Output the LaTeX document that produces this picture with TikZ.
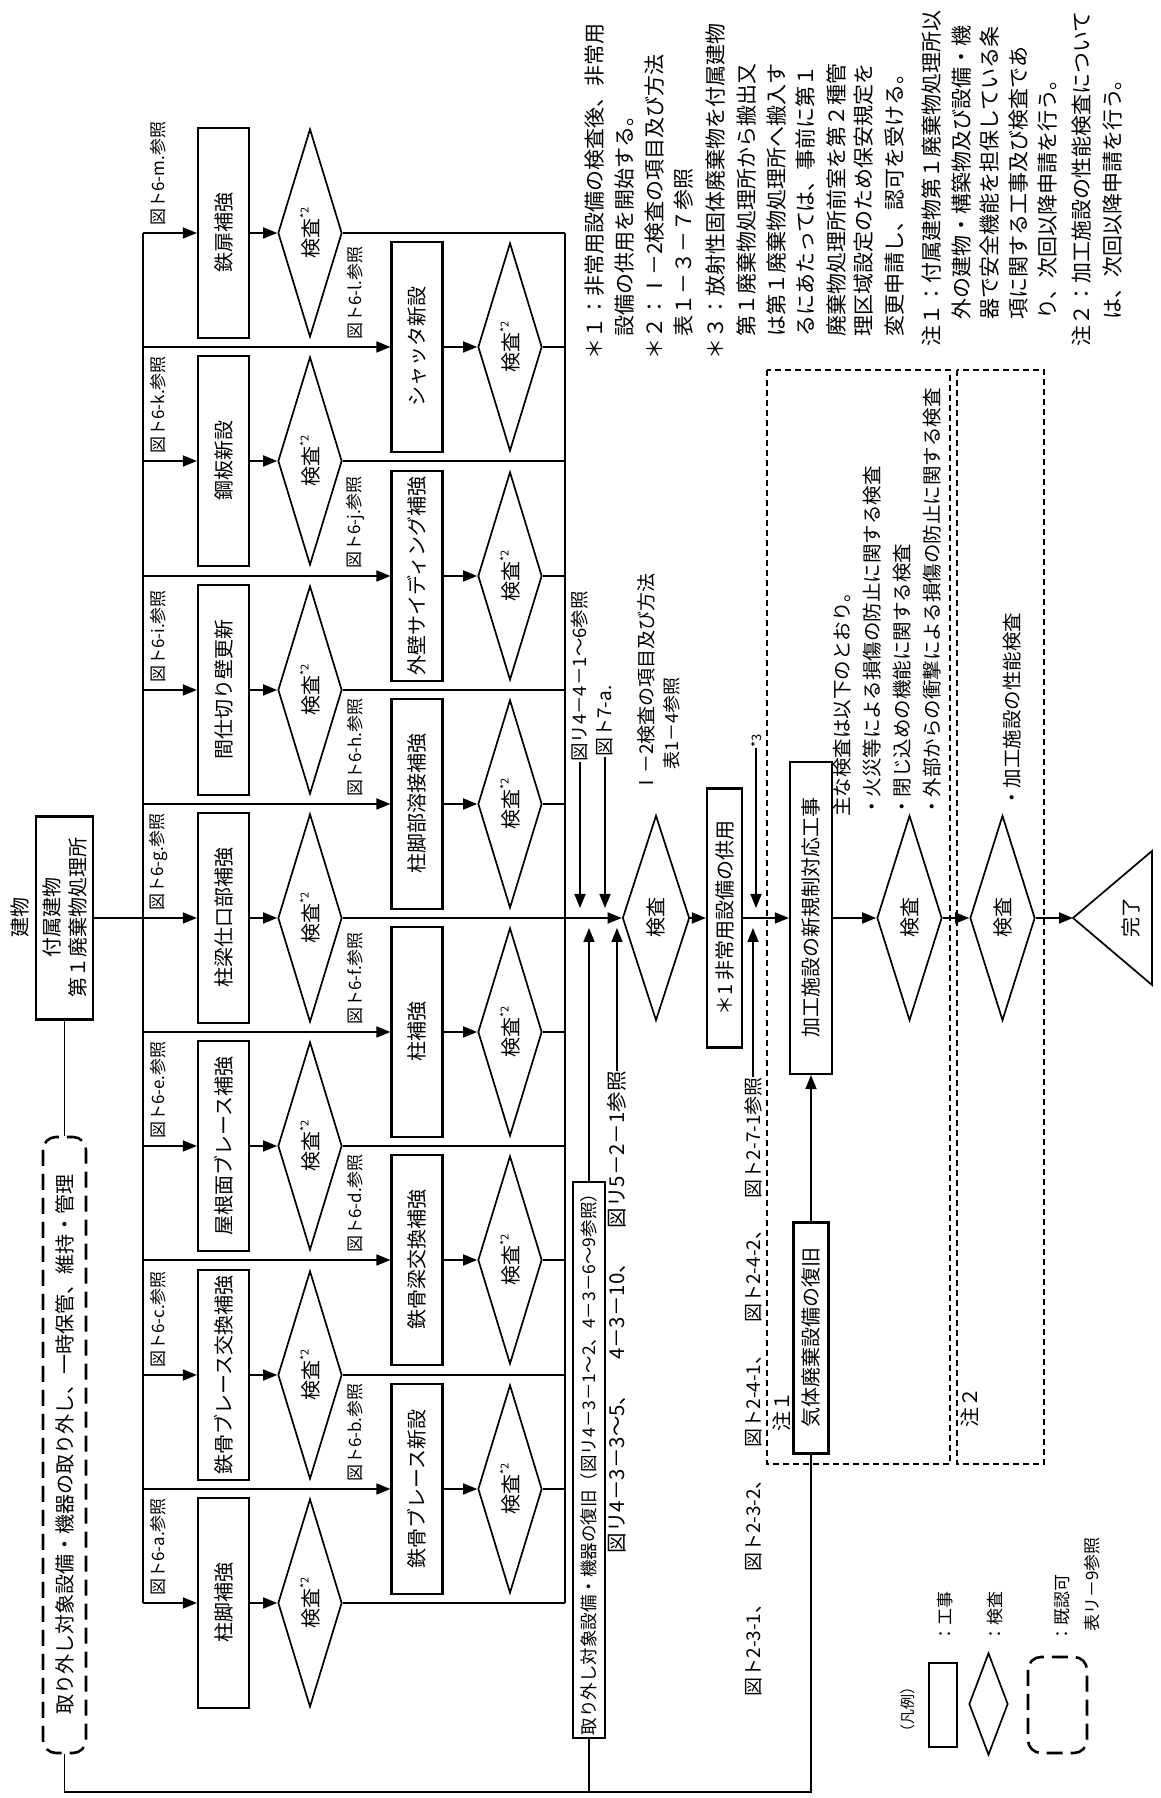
\documentclass[tikz,border=0pt]{standalone}
\usepackage{fontspec}
\setmainfont{Noto Sans CJK JP}
\usetikzlibrary{arrows.meta,shapes.geometric}
\tikzset{
	>={Triangle[length=14pt,width=11pt]},
	flowline/.style={line width=1.7pt},
	workbox/.style={
		draw, rectangle, line width=2.2pt,
		minimum width=210pt, minimum height=51pt,
		inner sep=0pt, font=\fontsize{20}{20}\selectfont
	},
	checkdia/.style={
		draw, diamond, aspect=3.2, line width=1.7pt,
		minimum width=208pt, minimum height=64pt,
		inner sep=0pt, font=\fontsize{20}{20}\selectfont
	},
	reflabel/.style={anchor=west, inner sep=0pt, font=\fontsize{17}{17}\selectfont},
	reftext/.style={inner sep=0pt, font=\fontsize{19}{19}\selectfont},
	notetext/.style={anchor=west, inner sep=0pt, font=\fontsize{21}{21}\selectfont},
	keepbox/.style={draw, line width=2.6pt, dash pattern=on 16pt off 8pt, rounded corners=13pt, inner sep=0pt},
	zonebox/.style={draw, line width=1.3pt, dash pattern=on 6pt off 4pt, inner sep=0pt}
}
\newcommand{\kensa}{検査\raisebox{.5em}{\fontsize{11}{11}\selectfont *2}}

\begin{document}
\begin{tikzpicture}
	\begin{scope}[x=1pt, y=-1pt, rotate=90, transform shape]
		\useasboundingbox (0,0) rectangle (1798,1160);
		% building and removed equipment
		\node[inner sep=0pt, font=\fontsize{20}{20}\selectfont] (bldtitle) at (880,20) {建物};
		\node[draw, line width=2.2pt, minimum width=203pt, minimum height=57pt, inner sep=0pt,
			align=center, font=\fontsize{20}{26}\selectfont] (bld) at (880,64.5) {付属建物\\第１廃棄物処理所};
		\node[keepbox, minimum width=616pt, minimum height=43pt, font=\fontsize{20}{20}\selectfont] (keep) at (353,64.5)
			{取り外し対象設備・機器の取り外し、一時保管、維持・管理};

		% works, upper row
		\node[workbox] (wa) at (195,223.5) {柱脚補強};
		\node[workbox] (wc) at (423,223.5) {鉄骨ブレース交換補強};
		\node[workbox] (we) at (652,223.5) {屋根面ブレース補強};
		\node[workbox] (wg) at (880,223.5) {柱梁仕口部補強};
		\node[workbox] (wi) at (1108,223.5) {間仕切り壁更新};
		\node[workbox] (wk) at (1337,223.5) {鋼板新設};
		\node[workbox] (wm) at (1565,223.5) {鉄扉補強};
		% works, lower row
		\node[workbox] (wb) at (309,417) {鉄骨ブレース新設};
		\node[workbox] (wd) at (538,417) {鉄骨梁交換補強};
		\node[workbox] (wf) at (766,417) {柱補強};
		\node[workbox] (wh) at (994,417) {柱脚部溶接補強};
		\node[workbox] (wj) at (1222,417) {外壁サイディング補強};
		\node[workbox] (wl) at (1451,417) {シャッタ新設};
		% inspections
		\node[checkdia] (ia) at (195,310) {\kensa};
		\node[checkdia] (ic) at (423,310) {\kensa};
		\node[checkdia] (ie) at (652,310) {\kensa};
		\node[checkdia] (ig) at (880,310) {\kensa};
		\node[checkdia] (ii) at (1108,310) {\kensa};
		\node[checkdia] (ik) at (1337,310) {\kensa};
		\node[checkdia] (im) at (1565,310) {\kensa};
		\node[checkdia] (ib) at (309,510) {\kensa};
		\node[checkdia] (id) at (538,510) {\kensa};
		\node[checkdia] (if) at (766,510) {\kensa};
		\node[checkdia] (ih) at (994,510) {\kensa};
		\node[checkdia] (ij) at (1222,510) {\kensa};
		\node[checkdia] (il) at (1451,510) {\kensa};
		% figure references
		\node[reflabel] (ra) at (202,158) {図ト6-a.参照};
		\node[reflabel] (rc) at (430,158) {図ト6-c.参照};
		\node[reflabel] (re) at (659,158) {図ト6-e.参照};
		\node[reflabel] (rg) at (887,158) {図ト6-g.参照};
		\node[reflabel] (ri) at (1115,158) {図ト6-i.参照};
		\node[reflabel] (rk) at (1344,158) {図ト6-k.参照};
		\node[reflabel] (rm) at (1572,158) {図ト6-m.参照};
		\node[reflabel] (rb) at (316,355) {図ト6-b.参照};
		\node[reflabel] (rd) at (545,355) {図ト6-d.参照};
		\node[reflabel] (rf) at (773,355) {図ト6-f.参照};
		\node[reflabel] (rh) at (1001,355) {図ト6-h.参照};
		\node[reflabel] (rj) at (1229,355) {図ト6-j.参照};
		\node[reflabel] (rl) at (1458,355) {図ト6-l.参照};

		% branch points on the bus and the collector
		\coordinate (ta) at (195,143);  \coordinate (sa) at (195,565);
		\coordinate (tb) at (309,143);  \coordinate (sb) at (309,565);
		\coordinate (tc) at (423,143);  \coordinate (sc) at (423,565);
		\coordinate (td) at (538,143);  \coordinate (sd) at (538,565);
		\coordinate (te) at (652,143);  \coordinate (se) at (652,565);
		\coordinate (tf) at (766,143);  \coordinate (sf) at (766,565);
		\coordinate (th) at (994,143);  \coordinate (sh) at (994,565);
		\coordinate (ti) at (1108,143); \coordinate (si) at (1108,565);
		\coordinate (tj) at (1222,143); \coordinate (sj) at (1222,565);
		\coordinate (tk) at (1337,143); \coordinate (sk) at (1337,565);
		\coordinate (tl) at (1451,143); \coordinate (sl) at (1451,565);
		\coordinate (tm) at (1565,143); \coordinate (sm) at (1565,565);

		% bus and collector
		\draw[flowline] (bld) -- (keep);
		\draw[flowline,->] (bld) -- (wg);
		\draw[flowline] (ta) -- (tm);
		\draw[flowline] (sa) -- (sm);
		\draw[flowline,->] (ta) -- (wa);
		\draw[flowline,->] (tb) -- (wb);
		\draw[flowline,->] (tc) -- (wc);
		\draw[flowline,->] (td) -- (wd);
		\draw[flowline,->] (te) -- (we);
		\draw[flowline,->] (tf) -- (wf);
		\draw[flowline,->] (th) -- (wh);
		\draw[flowline,->] (ti) -- (wi);
		\draw[flowline,->] (tj) -- (wj);
		\draw[flowline,->] (tk) -- (wk);
		\draw[flowline,->] (tl) -- (wl);
		\draw[flowline,->] (tm) -- (wm);
		\draw[flowline,->] (wa) -- (ia);
		\draw[flowline,->] (wb) -- (ib);
		\draw[flowline,->] (wc) -- (ic);
		\draw[flowline,->] (wd) -- (id);
		\draw[flowline,->] (we) -- (ie);
		\draw[flowline,->] (wf) -- (if);
		\draw[flowline,->] (wg) -- (ig);
		\draw[flowline,->] (wh) -- (ih);
		\draw[flowline,->] (wi) -- (ii);
		\draw[flowline,->] (wj) -- (ij);
		\draw[flowline,->] (wk) -- (ik);
		\draw[flowline,->] (wl) -- (il);
		\draw[flowline,->] (wm) -- (im);
		\draw[flowline] (ia) -- (sa);
		\draw[flowline] (ib) -- (sb);
		\draw[flowline] (ic) -- (sc);
		\draw[flowline] (id) -- (sd);
		\draw[flowline] (ie) -- (se);
		\draw[flowline] (if) -- (sf);
		\draw[flowline] (ih) -- (sh);
		\draw[flowline] (ii) -- (si);
		\draw[flowline] (ij) -- (sj);
		\draw[flowline] (ik) -- (sk);
		\draw[flowline] (il) -- (sl);
		\draw[flowline] (im) -- (sm);

		% main line
		\node[checkdia, minimum width=205pt, minimum height=67pt] (chk1) at (880,656) {検査};
		\node[draw, line width=2.2pt, minimum width=259pt, minimum height=35pt, inner sep=0pt,
			font=\fontsize{20}{20}\selectfont] (use) at (880,724.5) {＊1 非常用設備の供用};
		\node[draw, line width=2.2pt, minimum width=312pt, minimum height=42pt, inner sep=0pt,
			font=\fontsize{20}{20}\selectfont] (kako) at (880,811) {加工施設の新規制対応工事};
		\node[draw, line width=2.2pt, minimum width=231pt, minimum height=35pt, inner sep=0pt,
			font=\fontsize{20}{20}\selectfont] (gas) at (460,811) {気体廃棄設備の復旧};
		\node[checkdia, minimum width=205pt, minimum height=65pt] (chk2) at (880,909.5) {検査};
		\node[checkdia, minimum width=205pt, minimum height=65pt] (chk3) at (880,1002.5) {検査};
		\coordinate (donetop) at (880,1073);
		\draw[line width=1.7pt] (donetop) -- (813,1152) -- (947,1152) -- cycle;
		\node[inner sep=0pt, font=\fontsize{20}{20}\selectfont] (done) at (880,1131) {完了};
		\draw[flowline,->] (ig) -- (chk1);
		\draw[flowline,->] (chk1) -- (use);
		\draw[flowline,->] (use) -- (kako);
		\draw[flowline,->] (gas) -- (kako);
		\draw[flowline,->] (kako) -- (chk2);
		\draw[flowline,->] (chk2) -- (chk3);
		\draw[flowline,->] (chk3) -- (donetop);

		% restoring removed equipment
		\node[draw, line width=2.2pt, minimum width=556pt, minimum height=32pt, inner sep=0pt,
			font=\fontsize{17.5}{17.5}\selectfont] (rest) at (338,589)
			{取り外し対象設備・機器の復旧（図リ4－3－1～2、4－3－6～9参照）};
		\coordinate (lp1) at (6,64.5);
		\coordinate (lp2) at (6,811);
		\coordinate (lp3) at (6,589);
		\draw[flowline] (keep) -- (lp1) -- (lp2) -- (gas);
		\draw[flowline] (lp3) -- (rest);

		% references into the main line
		\node[reftext, anchor=west, font=\fontsize{18.5}{18.5}\selectfont] (rq1) at (1036,580) {図リ4－4－1～6参照};
		\node[reftext, anchor=west] (rq2) at (1041,605) {図ト7-a.};
		\node[reftext, anchor=east, font=\fontsize{20.5}{20.5}\selectfont] (rq3) at (727,617)
			{図リ4－3－3～5、\hspace{1.2em}4－3－10、\hspace{1.2em}図リ5－2－1参照};
		\node[reftext, anchor=west] (rq4) at (1005,646) {Ⅰ－2検査の項目及び方法};
		\node[reftext, anchor=west, font=\fontsize{18}{18}\selectfont] (rq5) at (1028,672) {表1－4参照};
		\node[inner sep=0pt, anchor=west, font=\fontsize{13}{13}\selectfont] (rq6) at (1050,756) {*3};
		\node[reftext, anchor=east] (rq7) at (721,753)
			{図ト2-3-1、\hspace{1.2em}図ト2-3-2、\hspace{1.2em}図ト2-4-1、\hspace{1.2em}図ト2-4-2、\hspace{1.2em}図ト2-7-1参照};
		\coordinate (m1) at (880,580);
		\coordinate (m2) at (880,605);
		\coordinate (m3) at (880,589);
		\coordinate (m4) at (880,617);
		\coordinate (m5) at (880,756);
		\coordinate (m6) at (880,753);
		\draw[flowline,->,shorten >=10pt] (rq1.west) -- (m1);
		\draw[flowline,->,shorten >=10pt] (rq2.west) -- (m2);
		\draw[flowline,->,shorten >=10pt] (rest) -- (m3);
		\draw[flowline,->,shorten >=10pt] (rq3.east) -- (m4);
		\draw[flowline,->,shorten >=10pt] (rq6.west) -- (m5);
		\draw[flowline,->,shorten >=10pt] (rq7.east) -- (m6);

		% notes 1 and 2
		\node[zonebox, minimum width=1094pt, minimum height=183pt] (zone1) at (881,858.5) {};
		\node[zonebox, minimum width=1094pt, minimum height=87pt] (zone2) at (881,1000.5) {};
		\node[notetext, font=\fontsize{20}{20}\selectfont] (z1) at (366,782) {注１};
		\node[notetext, font=\fontsize{20}{20}\selectfont] (z2) at (370,970) {注２};
		\node[notetext, font=\fontsize{19.5}{19.5}\selectfont] (zt1) at (981,842) {主な検査は以下のとおり。};
		\node[notetext, font=\fontsize{19.5}{19.5}\selectfont] (zt2) at (981,872) {・火災等による損傷の防止に関する検査};
		\node[notetext, font=\fontsize{19.5}{19.5}\selectfont] (zt3) at (981,902) {・閉じ込めの機能に関する検査};
		\node[notetext, font=\fontsize{19.5}{19.5}\selectfont] (zt4) at (981,932) {・外部からの衝撃による損傷の防止に関する検査};
		\node[notetext, font=\fontsize{19.5}{19.5}\selectfont] (zt5) at (990,1012) {・加工施設の性能検査};

		% footnotes
		\node[notetext] (n1a) at (1438,595) {＊１：非常用設備の検査後、非常用};
		\node[notetext] (n1b) at (1461,625) {設備の供用を開始する。};
		\node[notetext] (n2a) at (1438,655) {＊２：Ⅰ－2検査の項目及び方法};
		\node[notetext] (n2b) at (1461,684) {表１－３－７参照};
		\node[notetext] (n3a) at (1438,716) {＊３：放射性固体廃棄物を付属建物};
		\node[notetext] (n3b) at (1461,746) {第１廃棄物処理所から搬出又};
		\node[notetext] (n3c) at (1461,776) {は第１廃棄物処理所へ搬入す};
		\node[notetext] (n3d) at (1461,805) {るにあたっては、事前に第１};
		\node[notetext] (n3e) at (1461,836) {廃棄物処理所前室を第２種管};
		\node[notetext] (n3f) at (1461,864) {理区域設定のため保安規定を};
		\node[notetext] (n3g) at (1461,894) {変更申請し、認可を受ける。};
		\node[notetext] (n4a) at (1451,931) {注１：付属建物第１廃棄物処理所以};
		\node[notetext] (n4b) at (1478,961) {外の建物・構築物及び設備・機};
		\node[notetext] (n4c) at (1478,990) {器で安全機能を担保している条};
		\node[notetext] (n4d) at (1478,1019) {項に関する工事及び検査であ};
		\node[notetext] (n4e) at (1478,1048) {り、次回以降申請を行う。};
		\node[notetext] (n5a) at (1451,1082) {注２：加工施設の性能検査について};
		\node[notetext] (n5b) at (1478,1113) {は、次回以降申請を行う。};

		% legend
		\node[inner sep=0pt, anchor=west, font=\fontsize{15}{15}\selectfont] (lgd) at (58,908) {（凡例）};
		\node[draw, line width=1.7pt, minimum width=84pt, minimum height=28pt, inner sep=0pt] (lgw) at (93,943) {};
		\node[draw, diamond, line width=1.7pt, minimum width=102pt, minimum height=39pt, inner sep=0pt] (lgc) at (94,988.5) {};
		\node[keepbox, minimum width=96pt, minimum height=59pt] (lgk) at (93,1057.5) {};
		\node[inner sep=0pt, anchor=west, font=\fontsize{17}{17}\selectfont] (lgwt) at (155,945) {：工事};
		\node[inner sep=0pt, anchor=west, font=\fontsize{17}{17}\selectfont] (lgct) at (155,995) {：検査};
		\node[inner sep=0pt, anchor=west, font=\fontsize{17}{17}\selectfont] (lgkt) at (155,1062) {：既認可};
		\node[inner sep=0pt, anchor=west, font=\fontsize{17}{17}\selectfont] (lgkr) at (166,1092) {表リ－9参照};
	\end{scope}
\end{tikzpicture}
\end{document}
